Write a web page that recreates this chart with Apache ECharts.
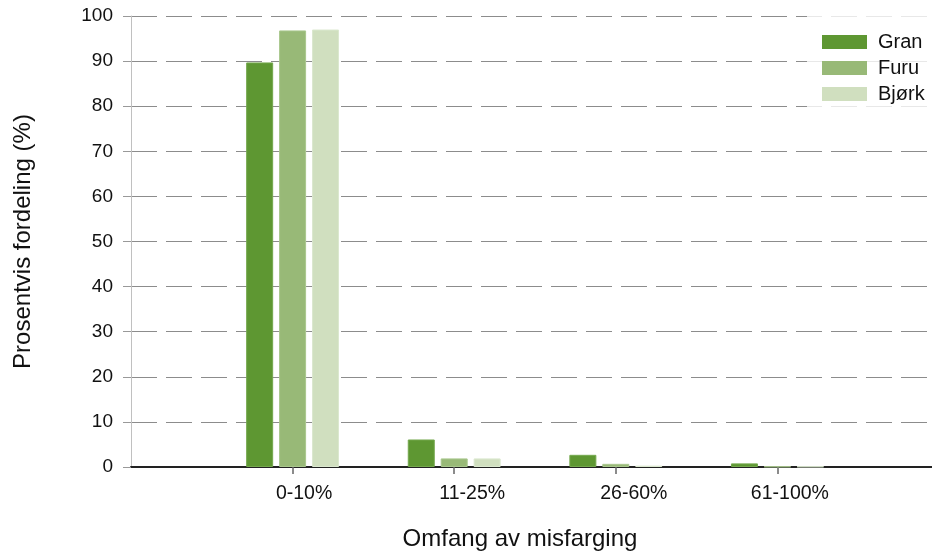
<!DOCTYPE html>
<html>
<head>
<meta charset="utf-8">
<script src="https://cdn.jsdelivr.net/npm/echarts@6/dist/echarts.min.js"></script>
<style>html,body{margin:0;padding:0;background:#fff;overflow:hidden;width:932px;height:551px}#c{width:942px;height:551px}</style>
</head>
<body>
<div id="c"></div>
<script>
const categories = ['', '0-10%', '11-25%', '26-60%', '61-100%', ''];
const gran  = [null, 89.7, 6.1, 2.7, 0.8, null];
const furu  = [null, 96.8, 1.9, 0.7, 0.1, null];
const bjork = [null, 97.0, 1.9, 0.3, 0.1, null];
const yTicks = { min: 0, max: 100, interval: 10 };
const seriesNames = ['Gran', 'Furu', 'Bjørk'];
const xTitle = 'Omfang av misfarging';
const yTitle = 'Prosentvis fordeling (%)';

const FONT = '"Liberation Sans", Arial, sans-serif';
const colors = ['#5e9732', '#98b977', '#d0dfbf'];
const borders = ['#74a84d', '#a9c78d', '#dbe8cf'];
// label horizontal shifts (style only)
const labelPad = [0, 23, 36, 36, 25, 0];
const rich = {};
labelPad.forEach((p, i) => { rich['l' + i] = { fontSize: 19.5, color: '#111', fontFamily: FONT, padding: [0, 0, 0, p] }; });

const chart = echarts.init(document.getElementById('c'), null, { renderer: 'canvas' });
const mk = (name, data, i) => ({
  name, type: 'bar', data, barWidth: 27, barGap: '22%',
  itemStyle: { color: colors[i], borderColor: borders[i], borderWidth: 1 },
  emphasis: { disabled: true }
});
chart.setOption({
  animation: false,
  textStyle: { fontFamily: FONT },
  grid: { left: 131, right: 0, top: 16, bottom: 84 },
  legend: {
    orient: 'vertical', left: 807, top: 4,
    padding: [28, 30, 6, 15],
    backgroundColor: 'rgba(255,255,255,0.8)',
    itemWidth: 45, itemHeight: 14, itemGap: 6,
    itemStyle: { borderWidth: 0 },
    textStyle: { fontFamily: FONT, fontSize: 20, color: '#111', padding: [0, 0, 0, 6] },
    icon: 'rect',
    data: seriesNames
  },
  xAxis: {
    type: 'category', data: categories, boundaryGap: false,
    axisLine: { lineStyle: { color: '#222', width: 2 } },
    axisTick: { show: true, length: 7, lineStyle: { color: '#666', width: 1.5 },
      interval: (i, v) => v !== '' },
    axisLabel: { color: '#111', fontSize: 19.5, margin: 17, fontFamily: FONT,
      interval: 0, rich,
      formatter: (v, i) => v === '' ? '' : '{l' + categories.indexOf(v) + '|' + v + '}' },
    splitLine: { show: false }
  },
  yAxis: {
    type: 'value', min: yTicks.min, max: yTicks.max, interval: yTicks.interval,
    name: yTitle, nameLocation: 'middle', nameGap: 96,
    nameTextStyle: { fontSize: 24, color: '#111', fontFamily: FONT },
    axisLine: { show: true, lineStyle: { color: '#c0c0c0', width: 1 } },
    axisTick: { show: true, length: 8, lineStyle: { color: '#999' } },
    axisLabel: { color: '#111', fontSize: 19, margin: 18, fontFamily: FONT },
    splitLine: { show: true, lineStyle: { color: '#8c8c8c', width: 1, type: [26, 9] } }
  },
  graphic: [{
    type: 'text', x: 520, y: 539,
    style: { text: xTitle, font: '24px ' + FONT, fill: '#111', textAlign: 'center', textVerticalAlign: 'middle' }
  }],
  series: [mk(seriesNames[0], gran, 0), mk(seriesNames[1], furu, 1), mk(seriesNames[2], bjork, 2)]
});
</script>
</body>
</html>
